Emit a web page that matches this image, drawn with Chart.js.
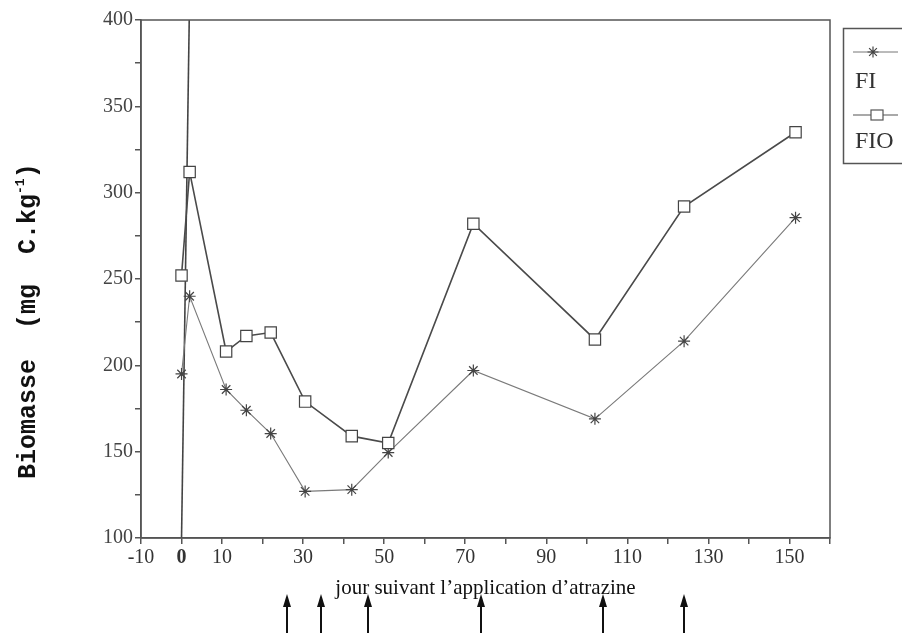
<!DOCTYPE html>
<html>
<head>
<meta charset="utf-8">
<script src="https://cdn.jsdelivr.net/npm/chart.js@4.4.1/dist/chart.umd.min.js"></script>
<style>
    html, body { margin: 0; padding: 0; background: #fff; }
    canvas { display: block; }
</style>
</head>
<body>
<canvas id="biomasseChart" width="902" height="633"></canvas>
<script>
// jours de prélèvement et biomasse microbienne (mg C/kg)
var days = [0, 2, 11, 16, 22, 30.5, 42, 51, 72, 102, 124, 151.5];
var biomasseFI = [195, 240, 186, 174, 160.5, 127, 128, 149.5, 197, 169, 214, 285.5];
var biomasseFIO = [252, 312, 208, 217, 219, 179, 159, 155, 282, 215, 292, 335];

var xTickLabels = [-10, 0, 10, 30, 50, 70, 90, 110, 130, 150];
var yTickLabels = [100, 150, 200, 250, 300, 350, 400];

// trait du jour 0 (application) et flèches sous l'axe
var dayZeroX = [0, 1.9];
var dayZeroY = [100, 400];
var arrowDays = [26, 34.5, 46, 74, 104, 124];

var serif = "'Liberation Serif', 'Times New Roman', serif";
var axisColor = "#555";

function toPoints(xs, ys) {
    return xs.map((x, i) => ({ x: x, y: ys[i] }));
}

var framePlugin = {
    id: "frame",
    afterDraw: function (chart) {
        var ctx = chart.ctx;
        var a = chart.chartArea;
        ctx.save();
        ctx.strokeStyle = axisColor;
        ctx.lineWidth = 1.5;
        ctx.strokeRect(a.left, a.top, a.right - a.left, a.bottom - a.top);
        ctx.restore();
    }
};

function drawStar(ctx, x, y, r) {
    ctx.beginPath();
    ctx.moveTo(x - r, y); ctx.lineTo(x + r, y);
    ctx.moveTo(x, y - r); ctx.lineTo(x, y + r);
    var d = r * 0.7071;
    ctx.moveTo(x - d, y - d); ctx.lineTo(x + d, y + d);
    ctx.moveTo(x - d, y + d); ctx.lineTo(x + d, y - d);
    ctx.stroke();
}

var legendPlugin = {
    id: "legendBox",
    afterDraw: function (chart) {
        var ctx = chart.ctx;
        ctx.save();
        ctx.strokeStyle = axisColor;
        ctx.lineWidth = 1.5;
        ctx.strokeRect(843.5, 28.5, 90, 135);

        // FI
        ctx.strokeStyle = "#777";
        ctx.lineWidth = 1;
        ctx.beginPath(); ctx.moveTo(853, 52); ctx.lineTo(898, 52); ctx.stroke();
        ctx.strokeStyle = "#444";
        ctx.lineWidth = 1.2;
        drawStar(ctx, 873, 52, 5.5);

        // FIO
        ctx.strokeStyle = "#555";
        ctx.lineWidth = 1.2;
        ctx.beginPath(); ctx.moveTo(853, 115); ctx.lineTo(898, 115); ctx.stroke();
        ctx.fillStyle = "#fff";
        ctx.fillRect(871, 110, 12, 10);
        ctx.strokeRect(871, 110, 12, 10);

        ctx.fillStyle = "#333";
        ctx.font = "24px " + serif;
        ctx.textBaseline = "middle";
        ctx.textAlign = "left";
        ctx.fillText("FI", 855, 82);
        ctx.fillText("FIO", 855, 142);
        ctx.restore();
    }
};

var arrowPlugin = {
    id: "arrows",
    afterDraw: function (chart) {
        var ctx = chart.ctx;
        var xs = chart.scales.x;
        ctx.save();
        ctx.strokeStyle = "#111";
        ctx.fillStyle = "#111";
        ctx.lineWidth = 2;
        arrowDays.forEach(function (d) {
            var x = Math.round(xs.getPixelForValue(d));
            ctx.beginPath();
            ctx.moveTo(x, 633);
            ctx.lineTo(x, 602);
            ctx.stroke();
            ctx.beginPath();
            ctx.moveTo(x, 594);
            ctx.lineTo(x - 4, 607);
            ctx.lineTo(x + 4, 607);
            ctx.closePath();
            ctx.fill();
        });
        ctx.restore();
    }
};

var yTitlePlugin = {
    id: "yTitle",
    afterDraw: function (chart) {
        var ctx = chart.ctx;
        var mono = "'Liberation Mono', 'Courier New', monospace";
        ctx.save();
        ctx.translate(35, 479);
        ctx.rotate(-Math.PI / 2);
        ctx.fillStyle = "#111";
        ctx.textAlign = "left";
        ctx.textBaseline = "alphabetic";
        ctx.font = "bold 25px " + mono;
        var main = "Biomasse  (mg  C.kg";
        ctx.fillText(main, 0, 0);
        var x = ctx.measureText(main).width;
        ctx.font = "bold 13px " + mono;
        ctx.fillText("-1", x, -11);
        x += ctx.measureText("-1").width;
        ctx.font = "bold 25px " + mono;
        ctx.fillText(")", x, 0);
        ctx.restore();
    }
};

document.addEventListener("DOMContentLoaded", function () {
    var ctx = document.getElementById("biomasseChart").getContext("2d");
    new Chart(ctx, {
        type: "line",
        data: {
            datasets: [
                {
                    label: "FIO",
                    data: toPoints(days, biomasseFIO),
                    borderColor: "#4a4a4a",
                    borderWidth: 1.6,
                    pointStyle: "rect",
                    pointRadius: 8,
                    pointBackgroundColor: "#fff",
                    pointBorderColor: "#444",
                    pointBorderWidth: 1.2,
                    tension: 0
                },
                {
                    label: "FI",
                    data: toPoints(days, biomasseFI),
                    borderColor: "#7a7a7a",
                    borderWidth: 1.1,
                    pointStyle: "star",
                    pointRadius: 6,
                    pointBorderColor: "#444",
                    pointBorderWidth: 1.2,
                    tension: 0
                },
                {
                    label: "jour 0",
                    data: toPoints(dayZeroX, dayZeroY),
                    borderColor: "#444",
                    borderWidth: 1.6,
                    pointRadius: 0
                }
            ]
        },
        options: {
            responsive: false,
            animation: false,
            layout: { padding: { top: 20, right: 72, left: 0, bottom: 0 } },
            plugins: {
                legend: { display: false },
                tooltip: { enabled: false }
            },
            scales: {
                x: {
                    type: "linear",
                    min: -10,
                    max: 160,
                    afterFit: function (scale) { scale.height = 95; },
                    ticks: {
                        stepSize: 10,
                        autoSkip: false,
                        maxRotation: 0,
                        padding: 2,
                        color: "#333",
                        font: function (c) {
                            return { family: serif, size: 20, weight: c.tick && c.tick.value === 0 ? "bold" : "normal" };
                        },
                        callback: function (value) {
                            return xTickLabels.includes(value) ? String(value) : "";
                        }
                    },
                    grid: { drawOnChartArea: false, drawTicks: true, tickLength: 6, color: axisColor, lineWidth: 1.5 },
                    border: { color: axisColor, width: 1.5 },
                    title: {
                        display: true,
                        text: "jour suivant l\u2019application d\u2019atrazine",
                        color: "#111",
                        font: { family: serif, size: 21 },
                        padding: { top: 0, bottom: 32 }
                    }
                },
                y: {
                    min: 100,
                    max: 400,
                    afterFit: function (scale) { scale.width = 141; },
                    ticks: {
                        stepSize: 25,
                        autoSkip: false,
                        padding: 2,
                        color: "#444",
                        font: { family: serif, size: 20 },
                        callback: function (value) {
                            return yTickLabels.includes(value) ? String(value) : "";
                        }
                    },
                    grid: { drawOnChartArea: false, drawTicks: true, tickLength: 6, color: axisColor, lineWidth: 1.5 },
                    border: { color: axisColor, width: 1.5 }
                }
            }
        },
        plugins: [framePlugin, legendPlugin, arrowPlugin, yTitlePlugin]
    });
});
</script>
</body>
</html>
